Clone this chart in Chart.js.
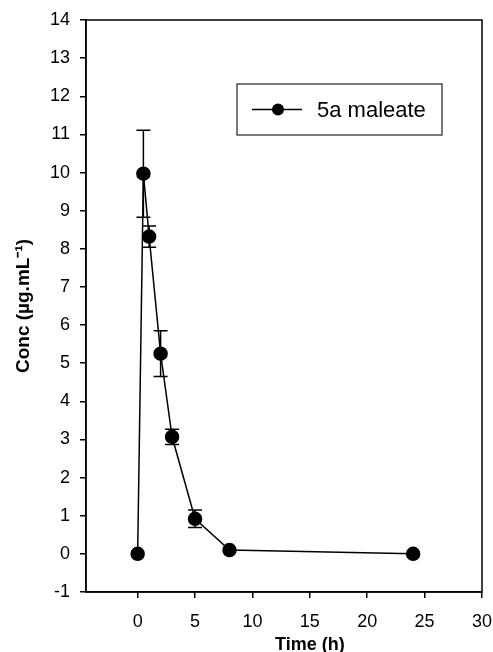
<!DOCTYPE html>
<html>
<head>
<meta charset="utf-8">
<script src="https://cdn.jsdelivr.net/npm/chart.js@4"></script>
<style>
  html, body { margin: 0; padding: 0; background: #fff; }
  #wrap { width: 493px; height: 652px; }
</style>
</head>
<body>
<div id="wrap"><canvas id="graphCanvas" width="493" height="652"></canvas></div>
<script>
// data
const times = [0, 0.5, 1, 2, 3, 5, 8, 24];
const conc = [0, 9.97, 8.32, 5.25, 3.07, 0.92, 0.1, 0];
const sem = [0, 1.14, 0.28, 0.6, 0.2, 0.23, 0, 0];
const xTicks = [0, 5, 10, 15, 20, 25, 30];
const yTicks = [-1, 0, 1, 2, 3, 4, 5, 6, 7, 8, 9, 10, 11, 12, 13, 14];
const seriesName = '5a maleate';
const xTitle = 'Time (h)';

const FONT = "'Liberation Sans', Arial, sans-serif";

// error bars, drawn through the scales
const errorBars = {
  id: 'errorBars',
  afterDatasetsDraw(chart) {
    const ctx = chart.ctx;
    const xs = chart.scales.x, ys = chart.scales.y;
    ctx.save();
    ctx.strokeStyle = '#000';
    ctx.lineWidth = 1.5;
    times.forEach((t, i) => {
      if (!sem[i]) return;
      const px = xs.getPixelForValue(t);
      const hi = ys.getPixelForValue(conc[i] + sem[i]);
      const lo = ys.getPixelForValue(conc[i] - sem[i]);
      ctx.beginPath();
      ctx.moveTo(px, hi); ctx.lineTo(px, lo);
      ctx.moveTo(px - 7, hi); ctx.lineTo(px + 7, hi);
      ctx.moveTo(px - 7, lo); ctx.lineTo(px + 7, lo);
      ctx.stroke();
    });
    ctx.restore();
  }
};

// frame round the plot, x title (sits a bit right of centre), boxed legend
const frameAndLegend = {
  id: 'frameAndLegend',
  afterDraw(chart) {
    const ctx = chart.ctx;
    const a = chart.chartArea;
    ctx.save();
    ctx.strokeStyle = '#000';
    ctx.lineWidth = 1.5;
    ctx.strokeRect(a.left, a.top, a.right - a.left, a.bottom - a.top);

    // x title, centred under x = 15 like the original
    ctx.fillStyle = '#000';
    ctx.font = 'bold 18px ' + FONT;
    ctx.textAlign = 'center';
    ctx.textBaseline = 'middle';
    ctx.fillText(xTitle, chart.scales.x.getPixelForValue(15), 645);

    // legend box
    const bx = 237, by = 84, bw = 205, bh = 51;
    ctx.lineWidth = 1.2;
    ctx.strokeStyle = '#222';
    ctx.strokeRect(bx, by, bw, bh);
    const cy = by + bh / 2;
    ctx.strokeStyle = '#000';
    ctx.lineWidth = 1.5;
    ctx.beginPath();
    ctx.moveTo(bx + 15, cy); ctx.lineTo(bx + 65, cy);
    ctx.stroke();
    ctx.beginPath();
    ctx.arc(bx + 41, cy, 6, 0, Math.PI * 2);
    ctx.fill();
    ctx.font = '22px ' + FONT;
    ctx.textAlign = 'left';
    ctx.fillText(seriesName, bx + 80, cy + 1);
    ctx.restore();
  }
};

const ctx = document.getElementById('graphCanvas');

new Chart(ctx, {
  type: 'line',
  data: {
    datasets: [{
      label: seriesName,
      data: times.map((t, i) => ({ x: t, y: conc[i] })),
      borderColor: '#000',
      borderWidth: 1.5,
      backgroundColor: '#000',
      pointRadius: 6.5,
      pointBackgroundColor: '#000',
      pointBorderColor: '#000',
      tension: 0
    }]
  },
  options: {
    responsive: false,
    animation: false,
    devicePixelRatio: 1,
    layout: { padding: { top: 20, right: 11, left: 0, bottom: 0 } },
    plugins: {
      legend: { display: false },
      tooltip: { enabled: false }
    },
    scales: {
      x: {
        type: 'linear',
        min: -4.5,
        max: 30,
        afterBuildTicks: axis => { axis.ticks = xTicks.map(v => ({ value: v })); },
        afterFit: axis => { axis.height = 60; axis.paddingLeft = 0; axis.paddingRight = 0; },
        grid: { drawOnChartArea: false, drawTicks: true, tickLength: 6, color: '#000', lineWidth: 1.5 },
        border: { display: true, color: '#000', width: 1.5 },
        ticks: { color: '#000', font: { family: FONT, size: 18 }, padding: 13, maxRotation: 0 }
      },
      y: {
        type: 'linear',
        min: -1,
        max: 14,
        afterBuildTicks: axis => { axis.ticks = yTicks.map(v => ({ value: v })); },
        afterFit: axis => { axis.width = 86; axis.paddingTop = 0; axis.paddingBottom = 0; },
        grid: { drawOnChartArea: false, drawTicks: true, tickLength: 6, color: '#000', lineWidth: 1.5 },
        border: { display: true, color: '#000', width: 1.5 },
        ticks: { color: '#000', font: { family: FONT, size: 18 }, padding: 10 },
        title: {
          display: true, text: 'Conc (\u00b5g.mL\u207b\u00b9)', color: '#000',
          font: { family: FONT, size: 19, weight: 'bold' }, padding: { top: 12, bottom: 0 }
        }
      }
    }
  },
  plugins: [errorBars, frameAndLegend]
});
</script>
</body>
</html>
